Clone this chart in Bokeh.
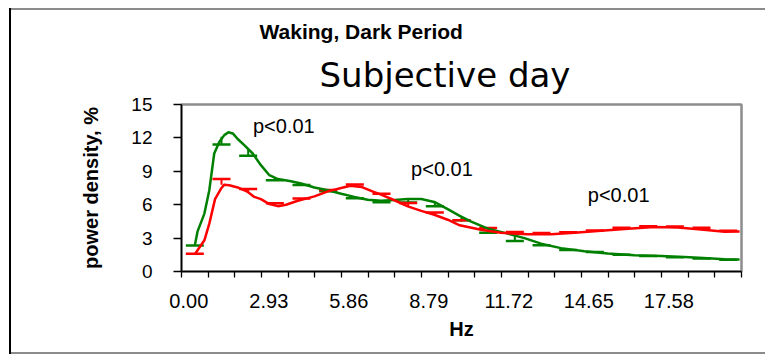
import numpy as np
from bokeh.plotting import figure
from bokeh.models import (ColumnDataSource, Whisker, TeeHead, Title, FixedTicker,
                          CustomJSTickFormatter, Range1d)
from bokeh.core.properties import value
from bokeh.embed import file_html
from bokeh.resources import INLINE

# ---------------- data ----------------
bin_hz = 0.9765625                      # width of one spectral bin (category)
n_bins = 21
tick_labels = ["0.00", "2.93", "5.86", "8.79", "11.72", "14.65", "17.58"]
label_bins = [0, 3, 6, 9, 12, 15, 18]

# smoothed curves (Hz, power density %)
green_hz = [0.00, 0.10, 0.35, 0.53, 0.71, 0.90, 1.08, 1.23, 1.39, 1.57, 1.81, 2.12, 2.42,
            2.73, 3.04, 3.52, 3.89, 4.38, 4.87, 5.36, 5.84, 6.33, 6.82, 7.31, 7.80, 8.29,
            8.77, 9.26, 9.70, 10.10, 10.73, 11.46, 12.07, 12.68, 13.41, 14.27, 15.12,
            16.10, 17.08, 17.93, 18.79, 19.40, 19.95]
green_val = [2.35, 3.6, 5.2, 7.3, 10.6, 11.65, 12.25, 12.5, 12.4, 11.9, 11.35, 10.6, 9.55,
             8.65, 8.3, 8.1, 7.9, 7.55, 7.3, 6.98, 6.7, 6.45, 6.35, 6.42, 6.52, 6.52,
             6.25, 5.6, 5.0, 4.5, 3.85, 3.4, 3.0, 2.5, 2.1, 1.82, 1.62,
             1.46, 1.4, 1.31, 1.18, 1.09, 1.07]

red_hz = [0.00, 0.35, 0.53, 0.74, 0.96, 1.08, 1.26, 1.57, 1.94, 2.18, 2.42, 2.73, 3.04,
          3.34, 3.77, 4.38, 4.87, 5.36, 5.70, 6.10, 6.50, 6.82, 7.31, 7.80, 8.29, 8.77,
          9.26, 9.70, 10.48, 11.20, 12.20, 13.05, 13.90, 14.88, 15.86, 16.83, 17.69,
          18.54, 19.40, 19.95]
red_val = [1.55, 2.8, 4.3, 6.5, 7.45, 7.8, 7.75, 7.55, 7.15, 6.7, 6.5, 6.05, 5.87,
           6.0, 6.35, 6.75, 7.2, 7.5, 7.7, 7.6, 7.2, 6.9, 6.4, 5.85, 5.45, 5.1,
           4.65, 4.15, 3.75, 3.48, 3.35, 3.35, 3.47, 3.65, 3.85, 4.0, 3.95,
           3.78, 3.58, 3.6]

# bin means and SEM (one per 0.98 Hz bin)
green_mean = [2.4, 12.1, 11.0, 8.45, 7.9, 7.3, 6.72, 6.35, 6.52, 6.15, 4.9, 3.8, 3.35,
              2.5, 2.0, 1.8, 1.55, 1.45, 1.37, 1.22, 1.1]
green_err = [0.07, 0.7, 0.6, 0.25, 0.12, 0.1, 0.15, 0.12, 0.33, 0.3, 0.3, 0.33, 0.6,
             0.15, 0.08, 0.05, 0.05, 0.05, 0.08, 0.05, 0.05]
red_mean = [1.5, 7.8, 7.1, 5.9, 6.4, 7.2, 7.6, 6.86, 5.85, 5.15, 4.5, 3.8, 3.42,
            3.35, 3.42, 3.58, 3.8, 3.95, 3.95, 3.8, 3.56]
red_err = [0.1, 0.5, 0.32, 0.22, 0.15, 0.12, 0.22, 0.12, 0.3, 0.15, 0.1, 0.1, 0.12,
           0.1, 0.1, 0.1, 0.12, 0.12, 0.1, 0.12, 0.1]

ann_text = ["p<0.01", "p<0.01", "p<0.01"]
ann_hz = [2.13, 7.92, 14.39]
ann_val = [13.05, 9.25, 6.9]

# ---------------- figure ----------------
GREEN = "#008000"
RED = "#ff0000"
FONT = "Liberation Sans"

x_lo = -0.5 * bin_hz
x_hi = (n_bins - 0.5) * bin_hz

p = figure(width=765, height=354, output_backend="svg", toolbar_location=None,
           x_range=Range1d(x_lo, x_hi), y_range=Range1d(0, 15),
           min_border_left=181, min_border_right=24, min_border_top=104,
           min_border_bottom=83)
# outer chart-area frame lines drawn behind a transparent border area
p.styles = {"box-shadow": ("inset 9px 0 0 0 white, inset 0 8px 0 0 white, "
                           "inset 11px 0 0 0 #000000, inset 0 10px 0 0 #8c8c8c, "
                           "inset 0 -2px 0 0 #8c8c8c"),
            "background-color": "white"}
p.border_fill_alpha = 0
p.grid.visible = False
p.outline_line_color = "#8c8c8c"
p.outline_line_width = 2.5
p.background_fill_color = "white"

bin_centers = [i * bin_hz for i in range(n_bins)]
bin_edges = [(i - 0.5) * bin_hz for i in range(n_bins + 1)]
label_shift = 0.22   # labels sit slightly left of their bins, as in the original
label_pos = [bin_centers[i] - label_shift for i in label_bins]

# titles: outer one is the figure title, the inner one is added next to the frame
p.title.text = "Waking, Dark Period"
p.title.text_font = FONT
p.title.text_font_size = "21px"
p.title.text_font_style = "bold"
p.title.text_color = "black"
p.title.align = "left"
p.title.offset = 78
p.title.standoff = 0
p.title.text_line_height = 0.7
p.add_layout(Title(text="Subjective day", text_font="DejaVu Sans", text_font_style="normal",
                   text_font_size="34px", text_color="black", align="left", offset=138,
                   standoff=20), "above")

# x axis
xa = p.xaxis[0]
xa.ticker = FixedTicker(ticks=label_pos, minor_ticks=bin_edges)
xa.formatter = CustomJSTickFormatter(args=dict(labels=tick_labels), code="return labels[index];")
xa.major_tick_out = 0
xa.major_tick_in = 0
xa.minor_tick_out = 6
xa.minor_tick_in = 0
xa.minor_tick_line_color = "black"
xa.minor_tick_line_width = 1.3
xa.axis_line_color = "black"
xa.axis_line_width = 1.5
xa.major_label_text_font = FONT
xa.major_label_text_font_size = "20px"
xa.major_label_text_color = "black"
xa.major_label_standoff = 16
xa.axis_label = "Hz"
xa.axis_label_text_font = FONT
xa.axis_label_text_font_style = "bold"
xa.axis_label_text_font_size = "20px"
xa.axis_label_text_color = "black"
xa.axis_label_standoff = 7

# y axis
ya = p.yaxis[0]
ya.ticker = FixedTicker(ticks=[0, 3, 6, 9, 12, 15])
ya.major_tick_out = 8
ya.major_tick_in = 0
ya.minor_tick_out = 0
ya.minor_tick_in = 0
ya.major_tick_line_color = "black"
ya.major_tick_line_width = 1.3
ya.axis_line_color = "black"
ya.axis_line_width = 1.5
ya.major_label_text_font = FONT
ya.major_label_text_font_size = "19px"
ya.major_label_text_color = "black"
ya.major_label_standoff = 21
ya.axis_label = "power density, %"
ya.axis_label_text_font = FONT
ya.axis_label_text_font_style = "bold"
ya.axis_label_text_font_size = "20px"
ya.axis_label_text_color = "black"
ya.axis_label_standoff = 26

# curves
p.line(green_hz, green_val, line_color=GREEN, line_width=2.5, line_join="round")
p.line(red_hz, red_val, line_color=RED, line_width=2.5, line_join="round")

# error bars (green: minus direction, red: plus direction)
g_src = ColumnDataSource(dict(x=bin_centers,
                              top=green_mean,
                              bot=list(np.array(green_mean) - np.array(green_err))))
r_src = ColumnDataSource(dict(x=bin_centers,
                              bot=red_mean,
                              top=list(np.array(red_mean) + np.array(red_err))))
gw = Whisker(source=g_src, base="x", upper="top", lower="bot", dimension="height",
             line_color=GREEN, line_width=2,
             upper_head=None,
             lower_head=TeeHead(size=18, line_color=GREEN, line_width=2.5))
rw = Whisker(source=r_src, base="x", upper="top", lower="bot", dimension="height",
             line_color=RED, line_width=2,
             lower_head=None,
             upper_head=TeeHead(size=18, line_color=RED, line_width=2.5))
p.add_layout(gw)
p.add_layout(rw)

# p-value annotations
p.text(x=ann_hz, y=ann_val, text=ann_text, text_font=value(FONT), text_font_size="20px",
       text_color="black", text_align="left", text_baseline="alphabetic")

open("out.html", "w").write(file_html(p, INLINE))
